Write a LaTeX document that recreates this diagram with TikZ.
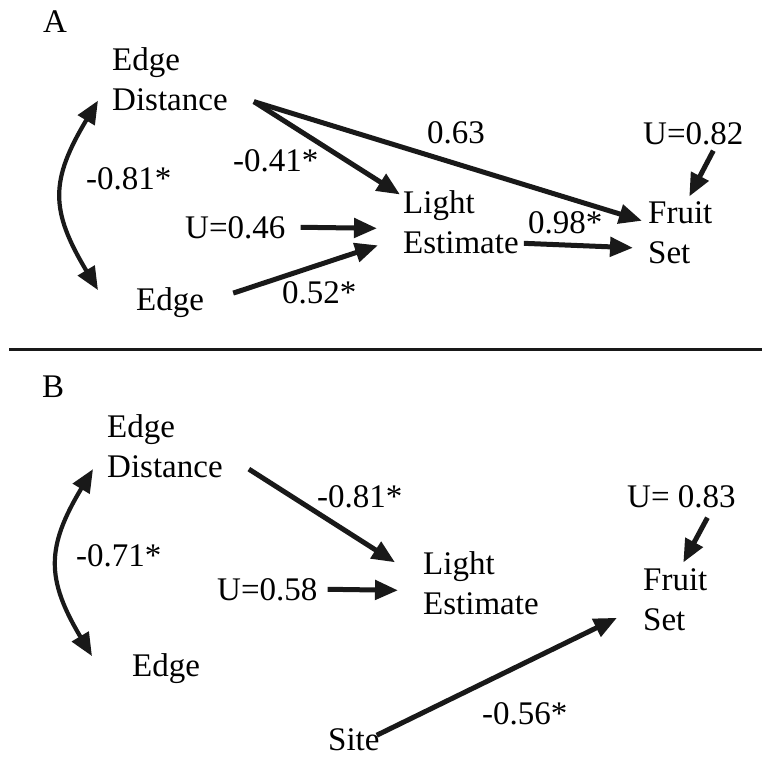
\documentclass[tikz,border=0pt]{standalone}
\usepackage{fontspec}
\setmainfont{Liberation Serif}
\usetikzlibrary{arrows.meta,calc}

\begin{document}
\begin{tikzpicture}[x=1pt,y=-1pt,
    font=\fontsize{33}{40}\selectfont,
    var/.style={inner sep=0pt,align=left,anchor=north west},
    txt/.style={inner sep=0pt,anchor=base west},
    arr/.style={-{Triangle[length=23pt,width=19pt]},line width=5pt,black!90},
    corr/.style={{Triangle[length=23pt,width=19pt]}-{Triangle[length=23pt,width=19pt]},line width=4.2pt,black!90}
  ]
  \useasboundingbox (0,0) rectangle (762,758);

  % panel A
  \node[txt] (labA) at (43,32) {A};
  \node[var] (edA) at (112,47) {Edge\\Distance};
  \node[txt] (edgeA) at (136,310) {Edge};
  \node[txt] (uLA) at (185,238) {U=0.46};
  \node[var] (lightA) at (403,190.5) {Light\\Estimate};
  \node[var] (fruitA) at (648,201.5) {Fruit\\Set};
  \node[txt] (uFA) at (643,144) {U=0.82};
  \node[txt] (cA) at (86,189) {-0.81*};
  \node[txt] (pA1) at (233,171) {-0.41*};
  \node[txt] (pA2) at (427,143) {0.63};
  \node[txt] (pA3) at (282,303) {0.52*};
  \node[txt] (pA4) at (528,233) {0.98*};

  \draw[corr] ($(edA.south west)+(-14,-10)$) .. controls +(-48,80) and +(-48,-80) .. ($(edgeA.west)+(-38,-12)$);
  \draw[arr] ($(edA.south east)+(26,-9)$) -- ($(lightA.north west)+(-3,4)$);
  \draw[arr] ($(edA.south east)+(26,-9)$) -- ($(fruitA.west)+(-6,-12)$);
  \draw[arr] ($(uLA.east)+(15,0)$) -- ($(lightA.west)+(-26,6)$);
  \draw[arr] ($(edgeA.east)+(29,-9)$) -- ($(lightA.west)+(-25,23)$);
  \draw[arr] ($(lightA.east)+(5,21)$) -- ($(fruitA.west)+(-15,15)$);
  \draw[arr] ($(uFA.south)+(20,6)$) -- ($(fruitA.north)+(9,-5)$);

  \draw[line width=3pt,black!90] (9,349) -- (762,349);

  % panel B
  \node[txt] (labB) at (42,397) {B};
  \node[var] (edB) at (107,414.5) {Edge\\Distance};
  \node[txt] (edgeB) at (132,676) {Edge};
  \node[txt] (uLB) at (217,600) {U=0.58};
  \node[var] (lightB) at (423,551.5) {Light\\Estimate};
  \node[var] (fruitB) at (643,568.5) {Fruit\\Set};
  \node[txt] (uFB) at (627,507) {U= 0.83};
  \node[txt] (siteB) at (328,750) {Site};
  \node[txt] (cB) at (76,566) {-0.71*};
  \node[txt] (pB1) at (317,507) {-0.81*};
  \node[txt] (pB2) at (482,724) {-0.56*};

  \draw[corr] ($(edB.south west)+(-14,-9)$) .. controls +(-47,78) and +(-46,-77) .. ($(edgeB.west)+(-40,-12)$);
  \draw[arr] ($(edB.south east)+(26,-9)$) -- ($(lightB.west)+(-28,-21)$);
  \draw[arr] ($(uLB.east)+(10,0)$) -- ($(lightB.west)+(-25,7)$);
  \draw[arr] ($(siteB.east)+(-3,-4)$) -- ($(fruitB.west)+(-26,18)$);
  \draw[arr] ($(uFB.south)+(26,10)$) -- ($(fruitB.north)+(8,-6)$);
\end{tikzpicture}
\end{document}
